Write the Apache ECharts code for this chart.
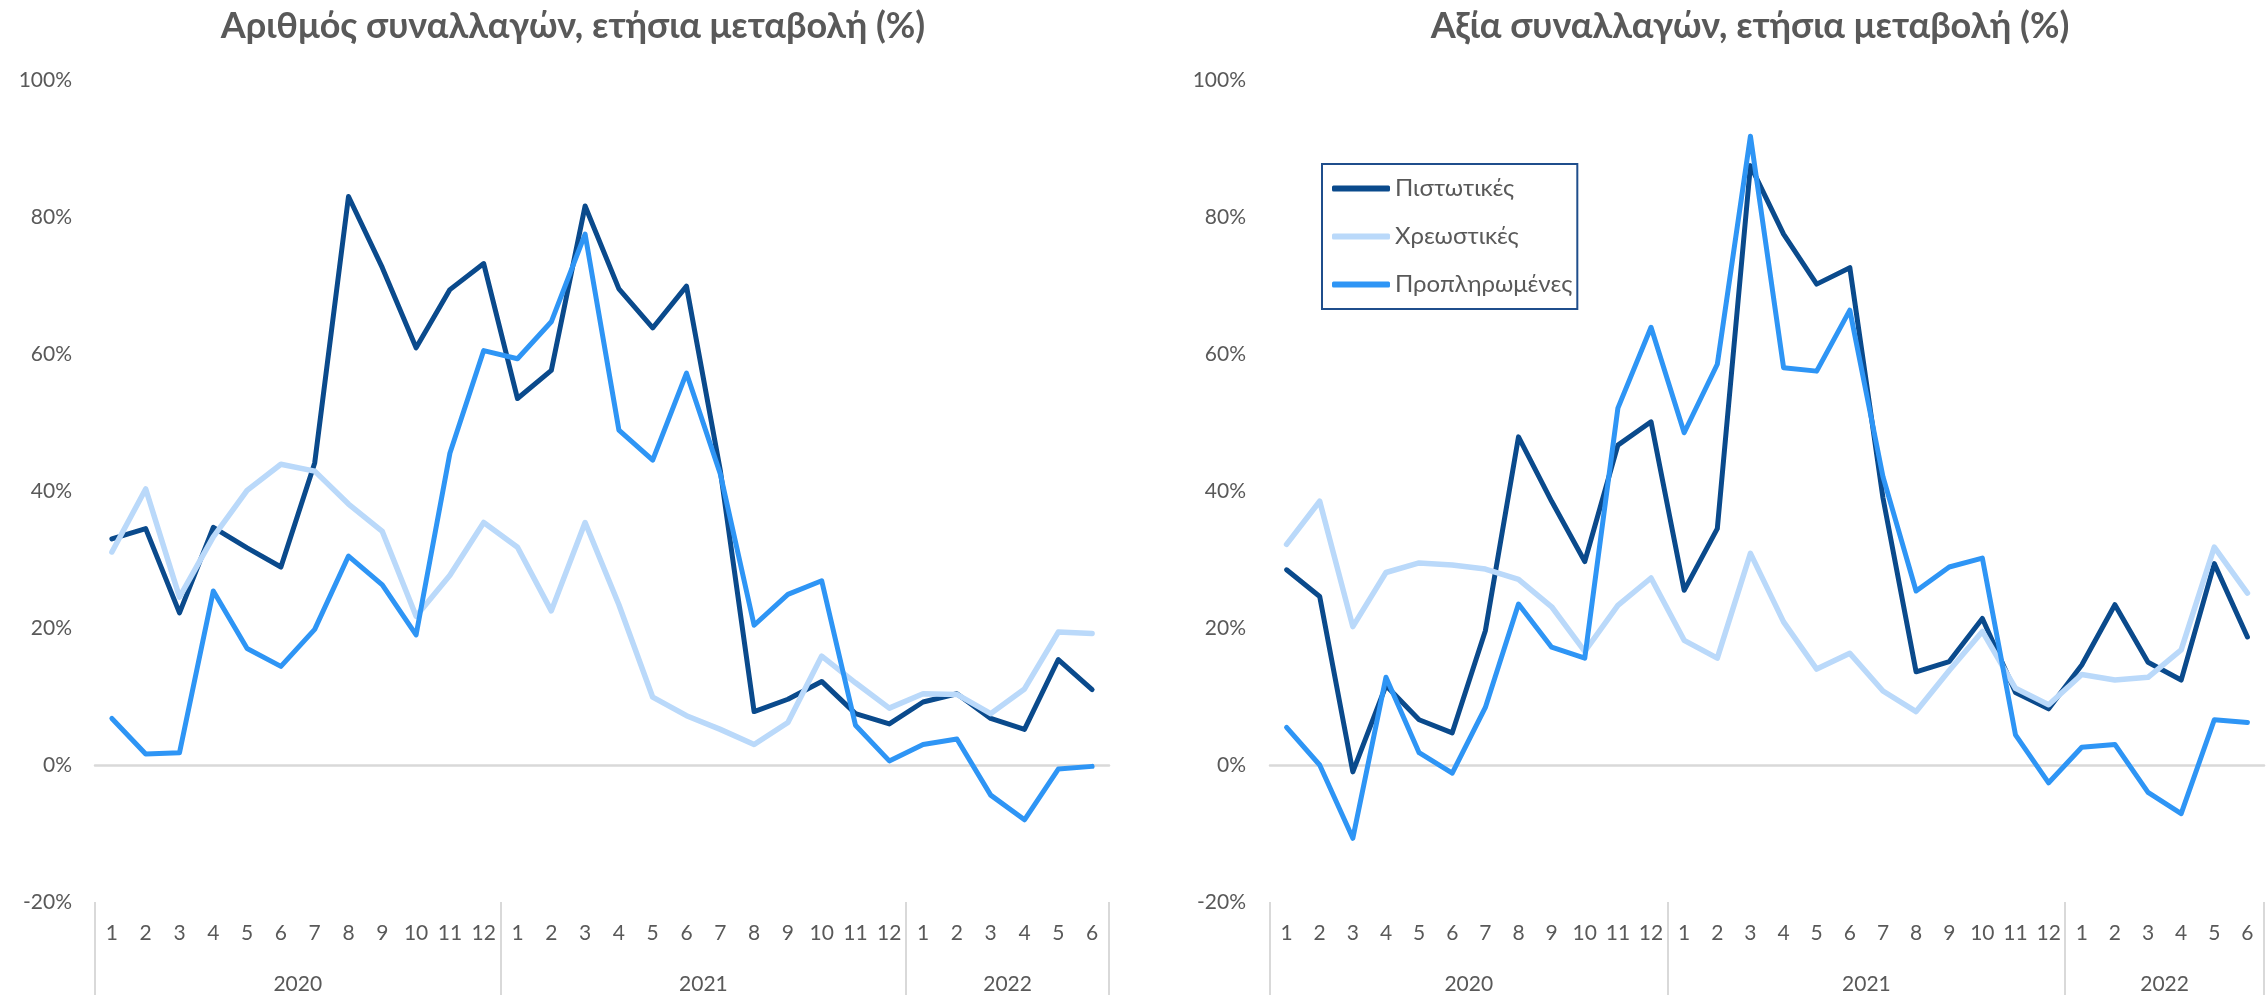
<!DOCTYPE html>
<html>
<head>
<meta charset="utf-8">
<script src="https://cdn.jsdelivr.net/npm/echarts@6/dist/echarts.min.js"></script>
<style>
html,body{margin:0;padding:0;background:#fff;}
#chart{width:2268px;height:995px;}
</style>
</head>
<body>
<div id="chart"></div>
<script>
// ---- data ----
const months = ['1','2','3','4','5','6','7','8','9','10','11','12',
                '1','2','3','4','5','6','7','8','9','10','11','12',
                '1','2','3','4','5','6'];
const years = ['2020','2021','2022'];
const yearCounts = [12, 12, 6];
const seriesNames = ['Πιστωτικές','Χρεωστικές','Προπληρωμένες'];
const titleCount = 'Αριθμός συναλλαγών, ετήσια μεταβολή (%)';
const titleValue = 'Αξία συναλλαγών, ετήσια μεταβολή (%)';
const yTicks = [-20, 0, 20, 40, 60, 80, 100];

const countCredit  = [33.0, 34.5, 22.2, 34.7, 31.7, 28.9, 44.1, 83.0, 72.6, 60.9, 69.4, 73.2, 53.5, 57.6, 81.6, 69.5, 63.8, 69.9, 43.0, 7.8, 9.6, 12.2, 7.5, 6.0, 9.2, 10.4, 6.8, 5.2, 15.4, 11.0];
const countDebit   = [31.1, 40.3, 24.5, 33.3, 40.1, 43.9, 42.9, 38.1, 34.1, 21.7, 27.7, 35.4, 31.8, 22.5, 35.4, 23.4, 9.9, 7.2, 5.2, 3.0, 6.2, 15.9, 12.0, 8.3, 10.4, 10.3, 7.5, 11.1, 19.4, 19.2];
const countPrepaid = [6.8, 1.6, 1.8, 25.4, 17.0, 14.4, 19.8, 30.5, 26.3, 19.0, 45.5, 60.5, 59.3, 64.7, 77.5, 48.9, 44.5, 57.2, 42.5, 20.4, 24.9, 26.9, 5.8, 0.6, 3.0, 3.8, -4.4, -8.0, -0.6, -0.2];

const valueCredit  = [28.5, 24.6, -1.0, 11.6, 6.6, 4.7, 19.6, 47.9, 38.5, 29.7, 46.7, 50.1, 25.5, 34.5, 87.5, 77.5, 70.2, 72.6, 39.0, 13.6, 15.1, 21.4, 10.6, 8.2, 14.6, 23.4, 15.0, 12.4, 29.4, 18.7];
const valueDebit   = [32.2, 38.5, 20.2, 28.1, 29.5, 29.2, 28.6, 27.1, 23.1, 16.6, 23.3, 27.3, 18.2, 15.6, 30.9, 20.9, 14.0, 16.3, 10.8, 7.8, 13.8, 19.5, 11.2, 8.8, 13.2, 12.4, 12.8, 16.8, 31.8, 25.1];
const valuePrepaid = [5.5, 0.0, -10.7, 12.8, 1.8, -1.2, 8.4, 23.5, 17.2, 15.6, 52.1, 63.9, 48.5, 58.5, 91.8, 58.0, 57.5, 66.4, 42.1, 25.4, 28.9, 30.2, 4.4, -2.6, 2.6, 3.0, -4.0, -7.1, 6.6, 6.2];

// ---- styling ----
const FONT = 'Lato, "Noto Sans", sans-serif';
const GRAY = '#595959';
const LINEGRAY = '#d9d9d9';
const colors = ['#0a4a8c', '#bad9fa', '#2e95f5'];

// group boundaries and centres derived from year counts
const boundaries = [];
const yearCenters = {};
let acc = 0;
yearCounts.forEach((c, i) => {
  boundaries.push(acc);
  yearCenters[acc + c / 2] = years[i];
  acc += c;
});
const total = months.length;

function xAxesFor(gridIndex) {
  return [
    { // months
      type: 'category', gridIndex, data: months, position: 'bottom',
      boundaryGap: true,
      axisLine: { show: false, onZero: false },
      axisTick: { show: true, length: 93, interval: (idx) => boundaries.includes(idx),
                  lineStyle: { color: LINEGRAY, width: 2 } },
      axisLabel: { interval: 0, fontFamily: FONT, fontSize: 21, color: GRAY, margin: 21 },
      splitLine: { show: false }
    },
    { // years
      type: 'value', gridIndex, min: 0, max: total, interval: 0.5, position: 'bottom',
      axisLine: { show: false, onZero: false },
      axisTick: { show: false },
      splitLine: { show: false },
      axisLabel: { fontFamily: FONT, fontSize: 21, color: GRAY, margin: 72, showMinLabel: true, showMaxLabel: true,
                   formatter: (v) => yearCenters[v] || '' }
    },
    { // zero line
      type: 'value', gridIndex, min: 0, max: total, position: 'bottom',
      axisLine: { show: true, onZero: true, lineStyle: { color: LINEGRAY, width: 2.5 } },
      axisTick: { show: false }, axisLabel: { show: false }, splitLine: { show: false }
    }
  ];
}

function yAxisFor(gridIndex, margin) {
  return {
    type: 'value', gridIndex, min: yTicks[0], max: yTicks[yTicks.length - 1], interval: 20,
    axisLine: { show: false, onZero: false }, axisTick: { show: false }, splitLine: { show: false },
    axisLabel: { formatter: '{value}%', fontFamily: FONT, fontSize: 21, color: GRAY, margin }
  };
}

function lineSeries(name, data, color, xi, yi, width) {
  return {
    name, type: 'line', data, xAxisIndex: xi, yAxisIndex: yi,
    symbol: 'none', color,
    lineStyle: { color, width, cap: 'round', join: 'round' },
    emphasis: { disabled: true }
  };
}

const option = {
  animation: false,
  backgroundColor: '#ffffff',
  title: [
    { text: titleCount, left: 568, top: 3, textAlign: 'center',
      textStyle: { fontFamily: FONT, fontSize: 36, fontWeight: 'bold', color: GRAY } },
    { text: titleValue, left: 1745, top: 3, textAlign: 'center',
      textStyle: { fontFamily: FONT, fontSize: 36, fontWeight: 'bold', color: GRAY } }
  ],
  legend: {
    data: seriesNames,
    orient: 'vertical', left: 1322, top: 164,
    icon: 'roundRect', itemWidth: 58, itemHeight: 6, itemGap: 21,
    padding: [11, 5, 11, 10],
    borderColor: '#1f4e8c', borderWidth: 2,
    textStyle: { fontFamily: FONT, fontSize: 24, color: GRAY, lineHeight: 27 }
  },
  grid: [
    { left: 95, right: 2268 - 1109, top: 80, bottom: 93, containLabel: false },
    { left: 1270, right: 4, top: 80, bottom: 93, containLabel: false }
  ],
  xAxis: [...xAxesFor(0), ...xAxesFor(1)],
  yAxis: [yAxisFor(0, 23), yAxisFor(1, 24)],
  series: [
    lineSeries(seriesNames[0], countCredit, colors[0], 0, 0, 5),
    lineSeries(seriesNames[1], countDebit, colors[1], 0, 0, 5.5),
    lineSeries(seriesNames[2], countPrepaid, colors[2], 0, 0, 5),
    lineSeries(seriesNames[0], valueCredit, colors[0], 3, 1, 5),
    lineSeries(seriesNames[1], valueDebit, colors[1], 3, 1, 5.5),
    lineSeries(seriesNames[2], valuePrepaid, colors[2], 3, 1, 5)
  ]
};

const chart = echarts.init(document.getElementById('chart'), null, { renderer: 'canvas' });
chart.setOption(option);
</script>
</body>
</html>
